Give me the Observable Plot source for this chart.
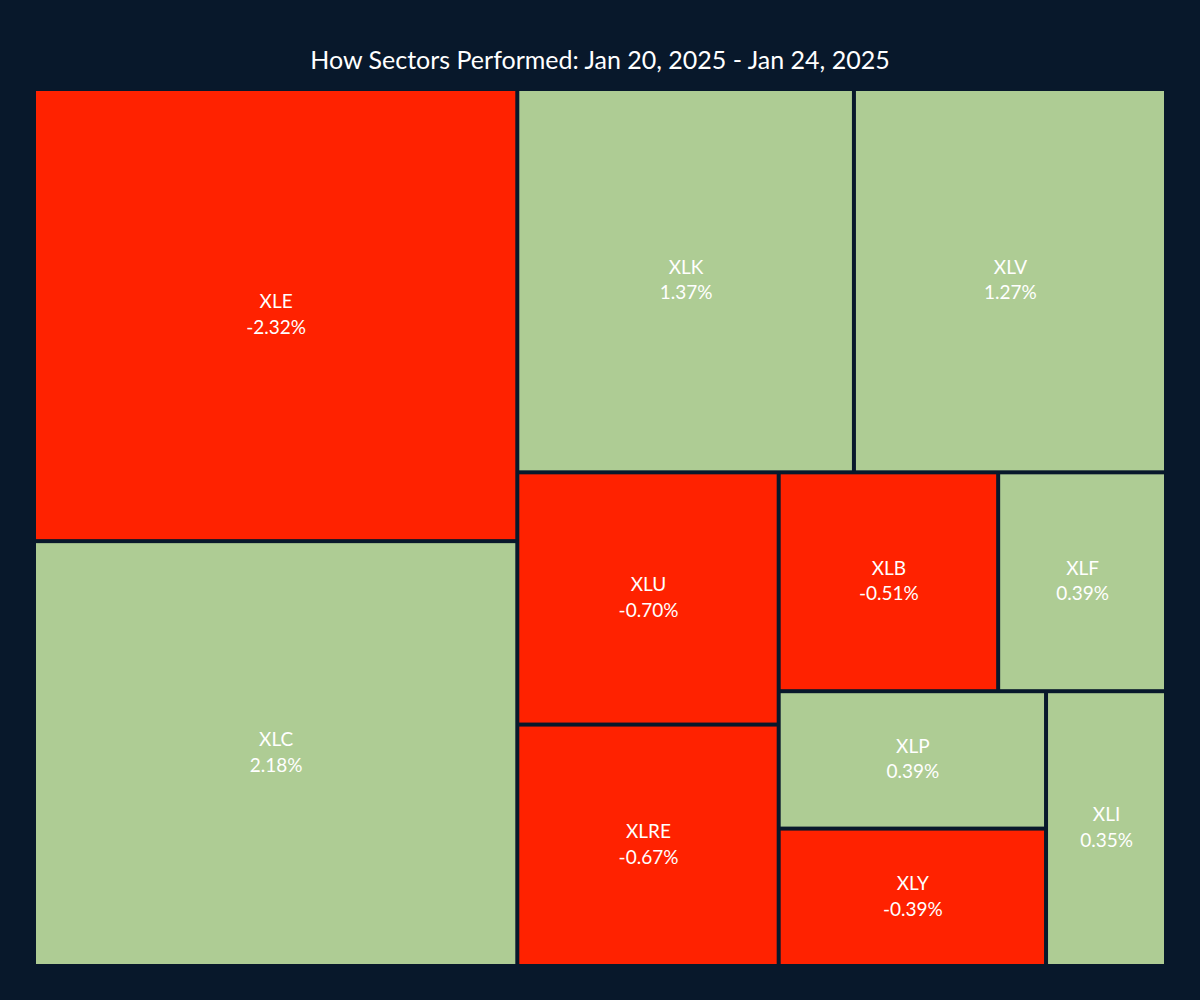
<!DOCTYPE html>
<html>
<head>
<meta charset="utf-8">
<script src="https://cdn.jsdelivr.net/npm/d3@7"></script>
<script src="https://cdn.jsdelivr.net/npm/@observablehq/plot@0.6"></script>
<style>
  html, body { margin: 0; padding: 0; background: #08182B; }
  #title { height: 91px; box-sizing: border-box; padding-top: 43px; text-align: center;
    color: #ffffff; font-family: "Comic Sans MS", "Lato", "DejaVu Sans", sans-serif; font-size: 25px; line-height: 32px; }
  #chart { width: 1200px; }
</style>
</head>
<body>
<div id="title">How Sectors Performed: Jan 20, 2025 - Jan 24, 2025</div>
<div id="chart"></div>
<script>
const tickers = ["XLE", "XLC", "XLK", "XLV", "XLU", "XLRE", "XLB", "XLF", "XLP", "XLY", "XLI"];
const changes = [-2.32, 2.18, 1.37, 1.27, -0.70, -0.67, -0.51, 0.39, 0.39, -0.39, 0.35];

const W = 1128, H = 873;
const root = d3.hierarchy({children: tickers.map((t, i) => ({ticker: t, change: changes[i]}))})
  .sum(d => d.change === undefined ? 0 : Math.abs(d.change))
  .sort((a, b) => b.value - a.value);
d3.treemap().tile(d3.treemapSquarify.ratio(1)).size([W, H]).paddingInner(4)(root);
const tiles = root.leaves().map(l => ({
  ticker: l.data.ticker,
  change: l.data.change,
  x1: l.x0, x2: l.x1,
  y1: l.y0, y2: l.y1,
  label: `${l.data.ticker}\n${l.data.change.toFixed(2)}%`
}));

const chart = Plot.plot({
  width: 1200,
  height: 909,
  marginLeft: 36, marginRight: 36, marginTop: 0, marginBottom: 36,
  style: {background: "#08182B", fontFamily: "\"Comic Sans MS\", Lato, \"DejaVu Sans\", sans-serif"},
  x: {domain: [0, W], range: [36, 1164], axis: null},
  y: {domain: [0, H], range: [0, 873], axis: null},
  marks: [
    Plot.rect(tiles, {
      x1: "x1", x2: "x2", y1: "y1", y2: "y2",
      fill: d => d.change < 0 ? "#FF2200" : "#AECC94"
    }),
    Plot.text(tiles, {
      x: d => (d.x1 + d.x2) / 2,
      y: d => (d.y1 + d.y2) / 2,
      text: "label",
      fill: "white",
      fontSize: 19,
      lineHeight: 1.35,
      lineAnchor: "middle",
      textAnchor: "middle",
      dy: -3
    })
  ]
});
document.getElementById("chart").appendChild(chart);
</script>
</body>
</html>
